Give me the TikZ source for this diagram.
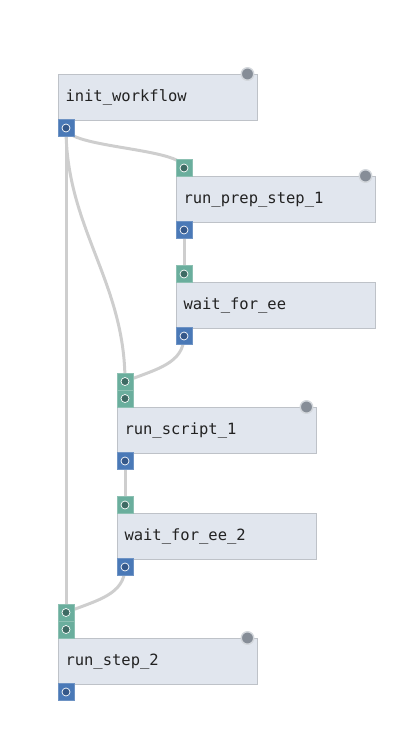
\documentclass[tikz,border=0pt]{standalone}
\usepackage{fontspec}
\newfontfamily\monof{DejaVu Sans Mono}
\usetikzlibrary{backgrounds,calc}
\definecolor{boxfill}{HTML}{E1E6EE}
\definecolor{boxline}{HTML}{BEC2C8}
\definecolor{portgreen}{HTML}{6AAE9D}
\definecolor{greenline}{HTML}{8CC0B2}
\definecolor{dotgreen}{HTML}{3E6B64}
\definecolor{portblue}{HTML}{4A79B7}
\definecolor{blueline}{HTML}{6E93C4}
\definecolor{dotblue}{HTML}{35588A}
\definecolor{statgray}{HTML}{868D97}
\definecolor{statring}{HTML}{D3D7DC}
\definecolor{linkgray}{HTML}{CECECE}
\definecolor{textcol}{HTML}{222222}
\begin{document}
\begin{tikzpicture}[x=1pt,y=-1pt,
  stepbox/.style={draw=boxline, fill=boxfill, line width=1pt,
    minimum width=199pt, minimum height=46pt, text width=185pt,
    inner xsep=7pt, inner ysep=0pt, align=left, anchor=north west,
    text=textcol, font=\monof\fontsize{15.5}{18}\selectfont},
  inport/.style={draw=greenline, fill=portgreen, line width=0.6pt,
    minimum width=16pt, minimum height=17pt, inner sep=0pt,
    path picture={\draw[fill=dotgreen, draw=white, line width=0.7pt]
      (path picture bounding box.center) circle (4pt);}},
  outport/.style={draw=blueline, fill=portblue, line width=0.6pt,
    minimum width=16pt, minimum height=17pt, inner sep=0pt,
    path picture={\draw[fill=dotblue, draw=white, line width=0.7pt]
      (path picture bounding box.center) circle (4pt);}},
  status/.style={circle, fill=statgray, draw=statring, line width=1.4pt,
    minimum size=12.5pt, inner sep=0pt},
  link/.style={draw=linkgray, line width=3pt}]
\useasboundingbox (0,0) rectangle (420,740);

% boxes
\node[stepbox] (iw) at (58,74) {init\_workflow};
\node[stepbox] (rp) at (176,176) {run\_prep\_step\_1};
\node[stepbox] (we) at (176,282) {wait\_for\_ee};
\node[stepbox] (rs) at (117,407) {run\_script\_1};
\node[stepbox] (we2) at (117,513) {wait\_for\_ee\_2};
\node[stepbox] (r2) at (58,638) {run\_step\_2};

% status circles
\node[status] (iw-st) at ($(iw.north east)+(-10.5,0)$) {};
\node[status] (rp-st) at ($(rp.north east)+(-10.5,0)$) {};
\node[status] (rs-st) at ($(rs.north east)+(-10.5,0)$) {};
\node[status] (r2-st) at ($(r2.north east)+(-10.5,0)$) {};

% ports
\node[outport] (iw-out) at ($(iw.south west)+(8,7)$) {};
\node[inport] (rp-in) at ($(rp.north west)+(8,-8)$) {};
\node[outport] (rp-out) at ($(rp.south west)+(8,7)$) {};
\node[inport] (we-in) at ($(we.north west)+(8,-8)$) {};
\node[outport] (we-out) at ($(we.south west)+(8,7)$) {};
\node[inport] (rs-in2) at ($(rs.north west)+(8,-8.5)$) {};
\node[inport] (rs-in1) at ($(rs.north west)+(8,-25.5)$) {};
\node[outport] (rs-out) at ($(rs.south west)+(8,7)$) {};
\node[inport] (we2-in) at ($(we2.north west)+(8,-8)$) {};
\node[outport] (we2-out) at ($(we2.south west)+(8,7)$) {};
\node[inport] (r2-in2) at ($(r2.north west)+(8,-8.5)$) {};
\node[inport] (r2-in1) at ($(r2.north west)+(8,-25.5)$) {};
\node[outport] (r2-out) at ($(r2.south west)+(8,7)$) {};

% links
\begin{scope}[on background layer]
\draw[link] (iw-out.center) .. controls +(0,20) and +(0,-20) .. (rp-in.center);
\draw[link] (iw-out.center) .. controls +(0,100) and +(0,-100) .. (rs-in1.center);
\draw[link] (iw-out.center) -- (r2-in1.center);
\draw[link] (rp-out.center) -- (we-in.center);
\draw[link] (we-out.center) .. controls +(0,28) and +(30,-12) .. (rs-in1.center);
\draw[link] (rs-out.center) -- (we2-in.center);
\draw[link] (we2-out.center) .. controls +(0,28) and +(30,-12) .. (r2-in1.center);
\end{scope}
\end{tikzpicture}
\end{document}
